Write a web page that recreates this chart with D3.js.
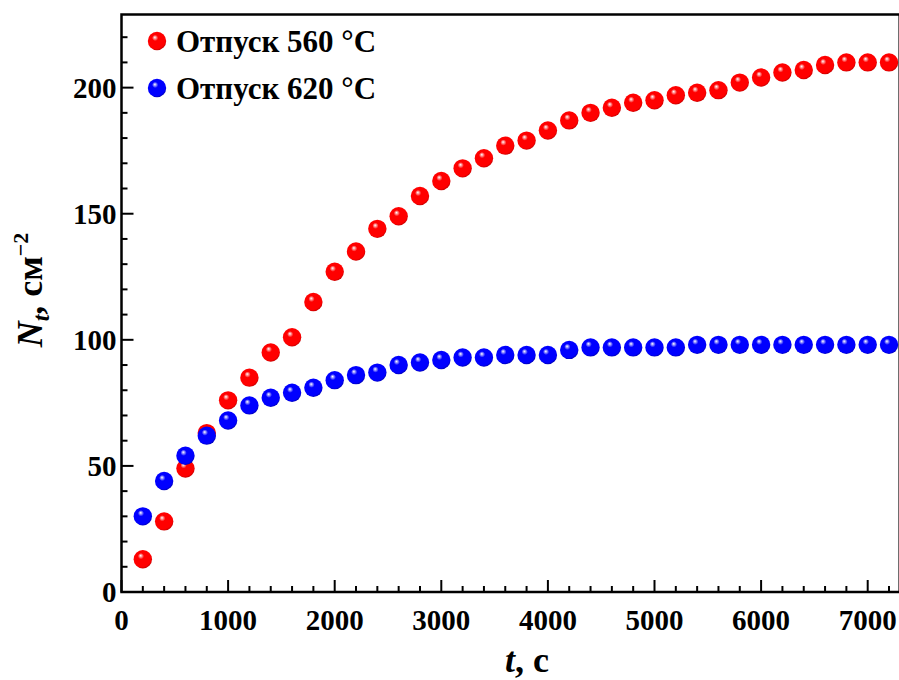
<!DOCTYPE html>
<html><head><meta charset="utf-8">
<script src="https://cdn.jsdelivr.net/npm/d3@7/dist/d3.min.js"></script>
<style>
html,body{margin:0;padding:0;background:#fff;}
svg text{font-family:"Liberation Serif","Times New Roman",serif;font-weight:bold;fill:#000;}
</style></head>
<body>
<svg id="chart" width="899" height="680"></svg>
<script>
const times = [200,400,600,800,1000,1200,1400,1600,1800,2000,2200,2400,2600,2800,3000,3200,3400,3600,3800,4000,4200,4400,4600,4800,5000,5200,5400,5600,5800,6000,6200,6400,6600,6800,7000,7200];
const series560 = [13,28,49,63,76,85,95,101,115,127,135,144,149,157,163,168,172,177,179,183,187,190,192,194,195,197,198,199,202,204,206,207,209,210,210,210];
const series620 = [30,44,54,62,68,74,77,79,81,84,86,87,90,91,92,93,93,94,94,94,96,97,97,97,97,97,98,98,98,98,98,98,98,98,98,98];
const seriesNames = ["Отпуск 560 °C","Отпуск 620 °C"];
const seriesColors = ["#ff0000","#0000ff"];
const xTicks = [0,1000,2000,3000,4000,5000,6000,7000];
const yTicks = [0,50,100,150,200];

const svg = d3.select("#chart");
const L = 121.5, T = 14.5, B = 592;
const x = d3.scaleLinear().domain([0,7300]).range([L, L + 106.6*7.3]);
const y = d3.scaleLinear().domain([0,229]).range([B, T]);
const R = x.range()[1];

// gradients
const defs = svg.append("defs");
const grads = [["r","#ff0000","#c00000"],["b","#0000ff","#0000b0"]];
grads.forEach(([id,c,d])=>{
  const g = defs.append("radialGradient").attr("id","g"+id)
    .attr("cx","0.45").attr("cy","0.42").attr("r","0.6").attr("fx","0.38").attr("fy","0.3");
  g.append("stop").attr("offset","0").attr("stop-color","#ffffff");
  g.append("stop").attr("offset","0.28").attr("stop-color",c);
  g.append("stop").attr("offset","0.85").attr("stop-color",c);
  g.append("stop").attr("offset","1").attr("stop-color",d);
});

// frame
svg.append("rect").attr("x",L).attr("y",T).attr("width",R-L).attr("height",B-T)
  .attr("fill","none").attr("stroke","#000").attr("stroke-width",2.5);

// x axis (ticks inward)
const xMinor = d3.range(0,7301,200);
const gx = svg.append("g");
gx.selectAll("line").data(xMinor).join("line")
  .attr("x1",d=>x(d)).attr("x2",d=>x(d))
  .attr("y1",B).attr("y2",d=>B-(d%1000===0?12:6))
  .attr("stroke","#000").attr("stroke-width",2);
gx.selectAll("text").data(xTicks).join("text")
  .attr("x",d=>x(d)).attr("y",B+38).attr("text-anchor","middle")
  .attr("font-size",29).text(d=>d);

// y axis
const yMinor = d3.range(0,230,10);
const gy = svg.append("g");
gy.selectAll("line").data(yMinor).join("line")
  .attr("y1",d=>y(d)).attr("y2",d=>y(d))
  .attr("x1",L).attr("x2",d=>L+(d%50===0?12:6))
  .attr("stroke","#000").attr("stroke-width",2);
gy.selectAll("text").data(yTicks).join("text")
  .attr("x",L-5).attr("y",d=>y(d)+10).attr("text-anchor","end")
  .attr("font-size",29).text(d=>d);

// axis titles
const xt = svg.append("text").attr("x",527).attr("y",672).attr("text-anchor","middle").attr("font-size",36);
xt.append("tspan").attr("font-style","italic").text("t");
xt.append("tspan").text(", с");

const yt = svg.append("text").attr("transform","translate(42,290) rotate(-90)").attr("text-anchor","middle").attr("font-size",36);
yt.append("tspan").attr("font-style","italic").text("N");
yt.append("tspan").attr("font-style","italic").attr("font-size",24).attr("dy",7).text("t");
yt.append("tspan").attr("dy",-7).text(", см");
yt.append("tspan").attr("font-size",22).attr("dy",-14).text("−2");

// points
const data = [series560, series620];
data.forEach((s,i)=>{
  svg.append("g").selectAll("circle").data(s).join("circle")
    .attr("cx",(d,j)=>x(times[j])).attr("cy",d=>y(d)).attr("r",9.2)
    .attr("fill",`url(#g${grads[i][0]})`);
});

// legend
seriesNames.forEach((n,i)=>{
  const cy = 41 + i*47;
  svg.append("circle").attr("cx",157).attr("cy",cy).attr("r",9.2).attr("fill",`url(#g${grads[i][0]})`);
  svg.append("text").attr("x",176).attr("y",cy+11).attr("font-size",31).text(n);
});
</script>
</body></html>
